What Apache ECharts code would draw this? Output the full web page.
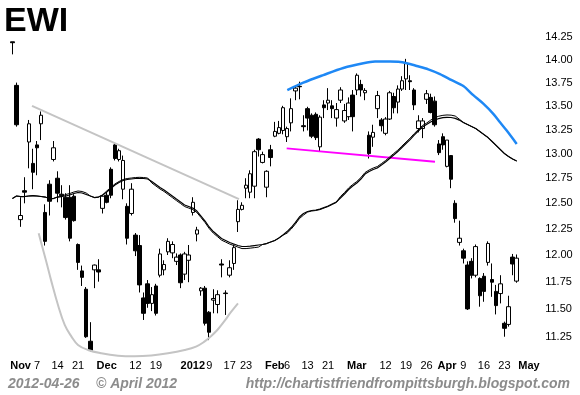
<!DOCTYPE html>
<html><head><meta charset="utf-8">
<script src="https://cdn.jsdelivr.net/npm/echarts@6/dist/echarts.min.js"></script>
<style>html,body{margin:0;padding:0;background:#fff}#c{width:580px;height:395px}</style>
</head><body><div id="c"></div>
<script>
// Trading days (Oct 28 2011 .. May 2 2012)
const dates = [
'2011-10-28','2011-10-31',
'2011-11-01','2011-11-02','2011-11-03','2011-11-04','2011-11-07','2011-11-08','2011-11-09','2011-11-10','2011-11-11',
'2011-11-14','2011-11-15','2011-11-16','2011-11-17','2011-11-18','2011-11-21','2011-11-22','2011-11-23','2011-11-25',
'2011-11-28','2011-11-29','2011-11-30',
'2011-12-01','2011-12-02','2011-12-05','2011-12-06','2011-12-07','2011-12-08','2011-12-09','2011-12-12','2011-12-13',
'2011-12-14','2011-12-15','2011-12-16','2011-12-19','2011-12-20','2011-12-21','2011-12-22','2011-12-23','2011-12-27',
'2011-12-28','2011-12-29','2011-12-30',
'2012-01-03','2012-01-04','2012-01-05','2012-01-06','2012-01-09','2012-01-10','2012-01-11','2012-01-12','2012-01-13',
'2012-01-17','2012-01-18','2012-01-19','2012-01-20','2012-01-23','2012-01-24','2012-01-25','2012-01-26','2012-01-27',
'2012-01-30','2012-01-31',
'2012-02-01','2012-02-02','2012-02-03','2012-02-06','2012-02-07','2012-02-08','2012-02-09','2012-02-10','2012-02-13',
'2012-02-14','2012-02-15','2012-02-16','2012-02-17','2012-02-21','2012-02-22','2012-02-23','2012-02-24','2012-02-27',
'2012-02-28','2012-02-29',
'2012-03-01','2012-03-02','2012-03-05','2012-03-06','2012-03-07','2012-03-08','2012-03-09','2012-03-12','2012-03-13',
'2012-03-14','2012-03-15','2012-03-16','2012-03-19','2012-03-20','2012-03-21','2012-03-22','2012-03-23','2012-03-26',
'2012-03-27','2012-03-28','2012-03-29','2012-03-30',
'2012-04-02','2012-04-03','2012-04-04','2012-04-05','2012-04-09','2012-04-10','2012-04-11','2012-04-12','2012-04-13',
'2012-04-16','2012-04-17','2012-04-18','2012-04-19','2012-04-20','2012-04-23','2012-04-24','2012-04-25','2012-04-26',
'2012-04-27','2012-04-30','2012-05-01','2012-05-02'
];

const opens = [14.20,13.72,12.34,12.625,13.12,12.90,13.09,13.31,12.41,12.69,
12.94,12.75,12.59,12.56,12.56,12.57,12.10,11.85,11.68,11.21,
11.86,11.86,12.45,12.58,12.84,13.09,12.94,12.64,12.47,12.40,
12.19,12.09,11.60,11.73,11.55,11.71,11.81,11.86,12.03,12.02,
11.94,12.00,11.82,11.95,12.41,12.20,11.665,11.69,11.47,11.58,
11.54,11.915,11.645,11.81,11.92,12.32,12.44,12.65,12.61,12.67,
13.15,12.91,12.66,13.04,13.18,13.21,13.24,13.175,13.32,13.66,
13.71,13.29,13.47,13.40,13.41,13.07,13.51,13.53,13.50,13.37,
13.56,13.34,13.385,13.615,13.67,13.73,13.64,13.19,13.17,13.47,
13.35,13.21,13.36,13.60,13.54,13.68,13.79,13.77,13.67,13.26,
13.26,13.57,13.59,13.55,13.10,13.175,12.87,12.98,12.50,12.12,
12.04,11.905,11.94,11.81,11.78,11.80,11.93,11.77,11.66,11.64,
11.37,11.36,11.98,11.755];
const highs = [14.20,13.75,12.56,12.76,13.35,13.05,13.13,13.44,12.49,12.73,
13.13,12.82,12.68,12.60,12.68,12.59,12.11,11.90,11.70,11.38,
11.91,11.96,12.58,12.61,12.86,13.11,13.05,12.98,12.50,12.70,
12.21,12.19,11.65,11.765,11.70,11.73,12.06,11.95,12.16,12.13,
12.015,12.015,12.03,12.095,12.56,12.27,11.70,11.71,11.48,11.68,
11.67,11.96,11.67,11.95,12.10,12.53,12.51,12.75,12.83,13.04,
13.16,13.02,12.83,13.09,13.33,13.34,13.50,13.28,13.58,13.71,
13.76,13.40,13.49,13.42,13.43,13.40,13.56,13.69,13.56,13.53,
13.70,13.52,13.59,13.67,13.85,13.78,13.69,13.23,13.30,13.66,
13.37,13.38,13.66,13.64,13.72,13.82,14.01,13.83,13.69,13.40,
13.37,13.67,13.63,13.60,13.14,13.21,13.14,12.985,12.53,12.33,
12.06,11.94,11.97,12.10,11.79,11.83,12.13,11.92,11.72,11.81,
11.385,11.62,12.01,12.005];
const lows = [14.06,13.28,12.27,12.50,12.85,12.64,12.78,13.14,12.09,12.38,
12.92,12.51,12.46,12.34,12.13,12.32,11.86,11.71,11.24,11.12,
11.69,11.75,12.40,12.50,12.55,12.93,12.92,12.54,12.10,12.38,
11.99,11.65,11.40,11.51,11.48,11.44,11.79,11.81,12.00,11.97,
11.905,11.69,11.765,11.745,12.38,12.13,11.62,11.35,11.22,11.46,
11.46,11.79,11.445,11.79,11.86,12.22,12.43,12.55,12.55,12.55,
12.97,12.90,12.56,12.87,13.17,13.20,13.20,13.12,13.23,13.56,
13.57,13.23,13.24,13.16,13.14,13.02,13.37,13.455,13.37,13.28,
13.53,13.32,13.35,13.23,13.615,13.60,13.56,12.95,13.07,13.37,
13.23,13.19,13.35,13.42,13.42,13.66,13.67,13.67,13.455,13.22,
13.16,13.52,13.42,13.28,12.985,13.04,12.86,12.65,12.31,12.09,
11.92,11.49,11.78,11.79,11.52,11.565,11.90,11.61,11.45,11.55,
11.25,11.34,11.81,11.74];
const closes = [14.19,13.30,12.38,12.61,13.31,12.81,13.06,13.40,12.13,12.52,
13.06,12.60,12.575,12.36,12.16,12.33,11.93,11.79,11.25,11.13,
11.905,11.84,12.57,12.51,12.58,12.95,13.03,12.93,12.16,12.64,
12.04,11.72,11.46,11.55,11.63,11.46,12.01,11.91,12.13,12.10,
11.98,11.74,12.01,12.00,12.51,12.24,11.69,11.37,11.29,11.595,
11.63,11.905,11.64,11.88,12.07,12.44,12.48,12.68,12.795,13.02,
13.04,12.99,12.82,12.96,13.23,13.27,13.48,13.26,13.47,13.69,
13.705,13.28,13.37,13.18,13.165,13.38,13.48,13.56,13.47,13.46,
13.67,13.45,13.53,13.385,13.83,13.67,13.665,13.00,13.22,13.61,
13.29,13.36,13.64,13.48,13.68,13.77,13.96,13.76,13.51,13.34,
13.34,13.63,13.43,13.30,13.01,13.09,13.14,12.74,12.35,12.16,
11.97,11.50,11.81,12.08,11.62,11.66,12.11,11.745,11.53,11.73,
11.325,11.52,11.915,11.97];

// Two moving averages (black)
const ma1 = [12.547,12.572,12.567,12.567,12.572,12.575,12.572,12.567,12.562,12.547,
12.547,12.562,12.567,12.572,12.582,12.597,12.607,12.602,12.587,12.572,
12.557,12.562,12.582,12.612,12.647,12.682,12.707,12.727,12.737,12.742,
12.747,12.749,12.747,12.742,12.717,12.687,12.657,12.632,12.602,12.572,
12.542,12.513,12.483,12.468,12.453,12.424,12.375,12.326,12.268,12.224,
12.191,12.157,12.138,12.119,12.105,12.090,12.081,12.081,12.085,12.090,
12.095,12.100,12.109,12.124,12.138,12.162,12.191,12.224,12.263,12.311,
12.365,12.399,12.419,12.429,12.434,12.443,12.458,12.473,12.493,12.513,
12.552,12.592,12.637,12.672,12.702,12.742,12.792,12.818,12.838,12.853,
12.883,12.914,12.950,12.986,13.021,13.063,13.104,13.145,13.192,13.234,
13.276,13.302,13.328,13.349,13.365,13.374,13.378,13.376,13.367,13.349,
13.323,13.302,13.281,13.260,13.229,13.197,13.166,13.125,13.084,13.042,
13.001,12.971,12.945,12.924];
const ma2 = [12.547,12.572,12.567,12.567,12.572,12.575,12.572,12.567,12.562,12.547,
12.547,12.562,12.567,12.587,12.597,12.612,12.622,12.617,12.602,12.572,
12.557,12.562,12.582,12.622,12.657,12.692,12.717,12.737,12.747,12.752,
12.757,12.759,12.757,12.752,12.702,12.672,12.642,12.617,12.587,12.557,
12.527,12.498,12.468,12.453,12.438,12.409,12.360,12.311,12.253,12.209,
12.176,12.142,12.123,12.104,12.090,12.075,12.061,12.061,12.065,12.070,
12.075,12.100,12.109,12.124,12.138,12.162,12.191,12.209,12.248,12.296,
12.350,12.384,12.414,12.424,12.429,12.438,12.453,12.468,12.488,12.508,
12.567,12.607,12.652,12.687,12.717,12.757,12.807,12.833,12.853,12.868,
12.898,12.929,12.965,13.001,13.036,13.078,13.119,13.160,13.207,13.249,
13.291,13.317,13.348,13.374,13.390,13.399,13.403,13.401,13.392,13.359,
13.323,13.302,13.281,13.260,13.229,13.197,13.166,13.125,13.084,13.042,
13.001,12.971,12.945,12.924];

// x-axis tick labels
const tickDates = ['2011-11-01','2011-11-07','2011-11-14','2011-11-21','2011-12-01','2011-12-12','2011-12-19',
'2012-01-03','2012-01-09','2012-01-17','2012-01-23','2012-02-01','2012-02-06','2012-02-13','2012-02-21',
'2012-03-01','2012-03-12','2012-03-19','2012-03-26','2012-04-02','2012-04-09','2012-04-16','2012-04-23','2012-05-01'];
const tickTexts = ['Nov','7','14','21','Dec','12','19','2012','9','17','23','Feb','6','13','21',
'Mar','12','19','26','Apr','9','16','23','May'];
const boldTicks = ['Nov','Dec','2012','Feb','Mar','Apr','May'];
// y-axis tick labels
const priceTicks = [14.25,14.00,13.75,13.50,13.25,13.00,12.75,12.50,12.25,12.00,11.75,11.50,11.25];

// Drawn annotations: [day position (category index), price]
const upperTrend = [[4.78,13.50],[55.27,12.542]];
const lowerArc = [[6.41,12.207],[7.05,12.112],[8.27,11.936],[9.49,11.755],[11.12,11.535],[12.76,11.355],
[14.37,11.253],[16.0,11.177],[18.44,11.133],[21.68,11.104],[25.76,11.083],[29.83,11.078],[33.88,11.085],
[37.95,11.104],[42.02,11.133],[44.78,11.163],[46.73,11.204],[48.37,11.253],[49.98,11.310],[51.61,11.385],
[53.24,11.468],[55.02,11.551]];
const blueArc = [[67.05,13.669],[70.95,13.749],[75.83,13.832],[80.71,13.910],[85.59,13.962],[88.44,13.980],
[92.1,13.980],[94.12,13.977],[96.17,13.962],[98.61,13.932],[101.44,13.895],[104.29,13.843],[107.15,13.776],
[109.98,13.713],[112.41,13.614],[114.85,13.523],[117.29,13.415],[118.93,13.326],[120.56,13.239],[123.0,13.100]];
const magentaLine = [[66.9,13.054],[103.07,12.917]];

const L = Math.log;
const candleData = dates.map((d, i) => i < opens.length ? [L(opens[i]), L(closes[i]), L(lows[i]), L(highs[i])] : '-');
const pad = arr => dates.map((d, i) => i < arr.length ? L(arr[i]) : '-');
const pts = arr => arr.map(p => [p[0], L(p[1])]);
const labelMap = new Map(tickDates.map((d, i) => [d, tickTexts[i]]));

const chart = echarts.init(document.getElementById('c'), null, {renderer: 'canvas'});
const font = 'Liberation Sans';
chart.setOption({
  animation: false,
  backgroundColor: '#fff',
  title: {text: 'EWI', left: 4, top: 5, padding: 0,
    textStyle: {fontSize: 34, fontWeight: 'bold', fontFamily: font, color: '#000'}},
  grid: {left: 10.35, right: 44.85, top: 24.1, bottom: 36.7, containLabel: false},
  xAxis: [{
    type: 'category', data: dates, boundaryGap: true,
    axisLine: {show: false}, axisTick: {show: false}, splitLine: {show: false},
    axisLabel: {
      interval: (idx, val) => labelMap.has(val),
      formatter: val => { const t = labelMap.get(val) || ''; return boldTicks.includes(t) ? '{b|' + t + '}' : t; },
      color: '#000', fontSize: 11, fontFamily: font, margin: 2,
      rich: {b: {fontWeight: 'bold', fontSize: 11, fontFamily: font, color: '#000'}}
    }
  }, {
    type: 'value', show: false, min: -0.5, max: dates.length - 0.5
  }],
  yAxis: {
    type: 'value', position: 'right', min: L(11.06), max: L(14.40),
    splitLine: {show: false}, axisLine: {show: false}, axisTick: {show: false},
    axisLabel: {customValues: priceTicks.map(L), formatter: v => Math.exp(v).toFixed(2),
      color: '#000', fontSize: 11, fontFamily: font, margin: 10}
  },
  series: [
    {type: 'line', xAxisIndex: 1, data: pts(upperTrend), showSymbol: false, silent: true,
      lineStyle: {color: '#c4c4c4', width: 2}},
    {type: 'line', xAxisIndex: 1, data: pts(lowerArc), showSymbol: false, smooth: 0.4, silent: true,
      lineStyle: {color: '#c4c4c4', width: 2}},
    {type: 'line', xAxisIndex: 1, data: pts(magentaLine), showSymbol: false, silent: true,
      lineStyle: {color: '#ff00ff', width: 2}},
    {type: 'line', xAxisIndex: 1, data: pts(blueArc), showSymbol: false, smooth: 0.3, silent: true,
      lineStyle: {color: '#1e88f5', width: 2.5}},
    {type: 'line', xAxisIndex: 0, data: pad(ma2), showSymbol: false, silent: true,
      lineStyle: {color: '#000', width: 1}},
    {type: 'line', xAxisIndex: 0, data: pad(ma1), showSymbol: false, silent: true,
      lineStyle: {color: '#000', width: 1.2}},
    {type: 'candlestick', xAxisIndex: 0, data: candleData, barWidth: 4, silent: true,
      itemStyle: {color: '#fff', color0: '#000', borderColor: '#000', borderColor0: '#000', borderWidth: 1}}
  ],
  graphic: [
    {type: 'text', left: 8, top: 377, style: {text: '2012-04-26', font: 'italic bold 14px "Liberation Sans"', fill: '#8c8c8c'}},
    {type: 'text', left: 96, top: 377, style: {text: '\u00A9 April 2012', font: 'italic bold 14px "Liberation Sans"', fill: '#8c8c8c'}},
    {type: 'text', right: 10, top: 377, style: {text: 'http://chartistfriendfrompittsburgh.blogspot.com', font: 'italic bold 14px "Liberation Sans"', fill: '#8c8c8c'}}
  ]
});
</script></body></html>
